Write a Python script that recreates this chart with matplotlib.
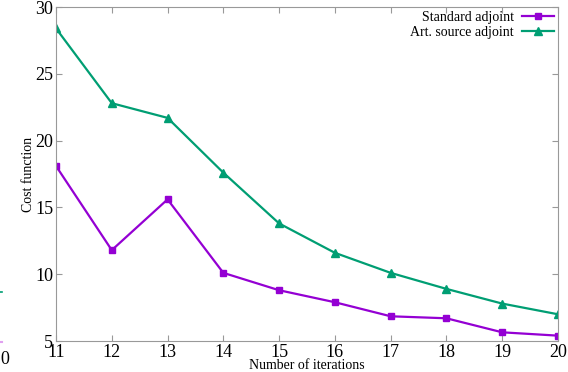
import matplotlib
matplotlib.use('Agg')
from matplotlib import pyplot as plt

iterations = [11, 12, 13, 14, 15, 16, 17, 18, 19, 20]
standard = [18.1, 11.8, 15.6, 10.1, 8.8, 7.9, 6.85, 6.7, 5.65, 5.4]
art_source = [28.4, 22.8, 21.7, 17.6, 13.8, 11.6, 10.1, 8.9, 7.8, 7.0]

plt.rcParams['font.family'] = ['Liberation Serif', 'DejaVu Serif']

fig = plt.figure(figsize=(5.68, 3.72), dpi=100)
ax = fig.add_axes([56/568, 1-341/372, 502/568, 334/372])

ax.plot(iterations, standard, color='#9400D3', marker='s', markersize=5, lw=1.6,
        label='Standard adjoint')
ax.plot(iterations, art_source, color='#009E73', marker='^', markersize=6, lw=1.6,
        label='Art. source adjoint')

ax.set_xlim(11, 20)
ax.set_ylim(5, 30)
ax.set_xticks(iterations)
ax.set_yticks([5, 10, 15, 20, 25, 30])
ax.tick_params(direction='in', length=4, color='#999999', labelsize=13,
               top=True, right=True, pad=2)
for s in ax.spines.values():
    s.set_color('#999999')
    s.set_linewidth(0.8)
for lab in ax.get_yticklabels() + ax.get_xticklabels():
    lab.set_clip_on(False)

ax.set_xlabel('Number of iterations', fontsize=10, labelpad=-1)
ax.set_ylabel('Cost function', fontsize=10, labelpad=0)

leg = ax.legend(loc='upper right', frameon=False, fontsize=10, markerfirst=False,
                handlelength=2.3, borderaxespad=0.1, labelspacing=0.1,
                handletextpad=0.6, borderpad=0.2, markerscale=0.9)

# fragments of the neighbouring figure at the far left
fig.text(0.0, 1-360/372, '0', fontsize=13, va='center', ha='left')
fig.add_artist(plt.Line2D([0, 2/568], [1-292/372, 1-292/372], color='#009E73', lw=1.2))
fig.add_artist(plt.Line2D([0, 2/568], [1-342/372, 1-342/372], color='#E0A0F0', lw=1.5))

fig.savefig('out.png', dpi=100)
